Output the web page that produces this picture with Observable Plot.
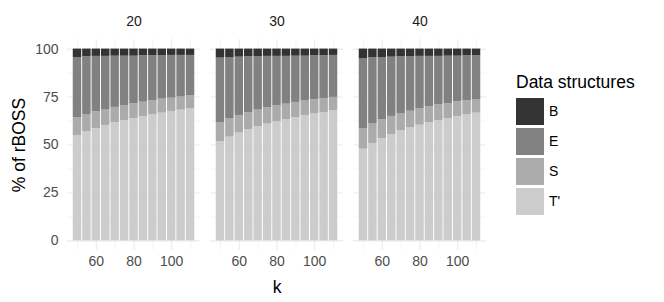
<!DOCTYPE html>
<html><head><meta charset="utf-8">
<script src="https://cdn.jsdelivr.net/npm/d3@7"></script>
<script src="https://cdn.jsdelivr.net/npm/@observablehq/plot@0.6"></script>
<style>
body{margin:0;background:#fff;font-family:"Liberation Sans",Arial,sans-serif;}
#wrap{position:relative;width:664px;height:302px;overflow:hidden;}
#wrap svg{position:absolute;left:0;top:0;}
#legend{position:absolute;left:516px;top:71px;color:#000;}
#legend .title{font-size:17.5px;line-height:22px;height:25px;white-space:nowrap;}
#legend .item{display:flex;align-items:center;height:30px;}
#legend .sw{width:28px;height:27px;margin-right:5px;}
#legend .lab{font-size:14px;color:#000;}
</style></head><body><div id="wrap"></div>
<script>
const nValues = [20, 30, 40];
const kValues = [50, 55, 60, 65, 70, 75, 80, 85, 90, 95, 100, 105, 110];
const structures = ["B", "E", "S", "T'"];
const greys = ["#333333", "#818181", "#ababab", "#cccccc"];

const tPrime20 = [54.8, 57.0, 58.6, 60.2, 61.6, 62.6, 63.8, 64.7, 65.7, 66.6, 67.5, 68.2, 68.9];
const s20      = [9.4, 8.9, 8.7, 8.3, 8.0, 8.0, 7.8, 7.6, 7.5, 7.3, 6.9, 6.8, 6.7];
const b20      = [4.4, 4.0, 3.8, 3.8, 3.7, 3.7, 3.7, 3.5, 3.5, 3.5, 3.3, 3.3, 3.3];

const tPrime30 = [51.8, 54.1, 56.2, 57.9, 59.5, 60.9, 62.1, 63.3, 64.3, 65.4, 66.2, 66.9, 67.8];
const s30      = [9.9, 9.7, 9.2, 8.9, 8.7, 8.5, 8.3, 8.0, 7.9, 7.5, 7.4, 7.2, 7.0];
const b30      = [4.7, 4.4, 4.2, 4.0, 4.0, 3.8, 3.8, 3.8, 3.7, 3.7, 3.5, 3.5, 3.3];

const tPrime40 = [47.8, 50.8, 53.4, 55.5, 57.4, 58.9, 60.3, 61.6, 62.8, 63.8, 64.9, 65.7, 66.6];
const s40      = [10.8, 10.4, 9.7, 9.4, 9.0, 8.7, 8.6, 8.3, 8.1, 7.8, 7.6, 7.5, 7.1];
const b40      = [5.1, 4.5, 4.4, 4.2, 4.0, 4.0, 3.8, 3.8, 3.8, 3.7, 3.7, 3.5, 3.5];

const yMajor = [0, 25, 50, 75, 100];
const yMinor = [12.5, 37.5, 62.5, 87.5];
const xMajor = [60, 80, 100];
const xMinor = [50, 70, 90, 110];

const series = {20: [tPrime20, s20, b20], 30: [tPrime30, s30, b30], 40: [tPrime40, s40, b40]};
const barWidth = 4.5;
const rows = [];
for (const n of nValues) {
  const [T, S, B] = series[n];
  kValues.forEach((k, i) => {
    const E = 100 - T[i] - S[i] - B[i];
    const stack = [["T'", T[i]], ["S", S[i]], ["E", E], ["B", B[i]]];
    let acc = 0;
    for (const [struct, v] of stack) {
      rows.push({n, k, struct, y1: acc, y2: acc + v});
      acc += v;
    }
  });
}

const gridStyle = {stroke: "#ebebeb", strokeOpacity: 1};
const chart = Plot.plot({
  width: 500, height: 302,
  marginLeft: 67, marginRight: 14, marginTop: 39, marginBottom: 52,
  style: {fontFamily: "'Liberation Sans', Arial, sans-serif", background: "transparent"},
  fx: {domain: nValues, paddingInner: 0.07, paddingOuter: 0, label: null},
  x: {domain: [44.7, 115.3]},
  y: {domain: [-5, 105]},
  color: {domain: structures, range: greys},
  marks: [
    Plot.gridY(yMinor, {...gridStyle, strokeWidth: 0.55}),
    Plot.gridY(yMajor, {...gridStyle, strokeWidth: 1.1}),
    Plot.gridX(xMinor, {...gridStyle, strokeWidth: 0.55}),
    Plot.gridX(xMajor, {...gridStyle, strokeWidth: 1.1}),
    Plot.rect(rows, {fx: "n", x1: d => d.k - barWidth / 2, x2: d => d.k + barWidth / 2, y1: "y1", y2: "y2", fill: "struct"}),
    Plot.axisY(yMajor, {tickSize: 0, tickPadding: 9, fontSize: 14, fill: "#4d4d4d", label: null}),
    Plot.axisY([], {label: "% of rBOSS", labelAnchor: "center", labelArrow: "none", labelOffset: 55, fontSize: 17.5, fill: "#000"}),
    Plot.axisX(xMajor, {tickSize: 0, tickPadding: 6, fontSize: 14, fill: "#4d4d4d", label: null}),
    Plot.axisX([], {label: "k", labelAnchor: "center", labelArrow: "none", labelOffset: 42, fontSize: 17.5, fill: "#000"}),
    Plot.axisFx({anchor: "top", tickSize: 0, tickPadding: 14, fontSize: 14, fill: "#1a1a1a", label: null})
  ]
});

const wrap = document.getElementById("wrap");
wrap.appendChild(chart);

const legend = document.createElement("div");
legend.id = "legend";
const title = document.createElement("div");
title.className = "title";
title.textContent = "Data structures";
legend.appendChild(title);
structures.forEach((s, i) => {
  const item = document.createElement("div");
  item.className = "item";
  const sw = document.createElement("div");
  sw.className = "sw";
  sw.style.background = greys[i];
  const lab = document.createElement("span");
  lab.className = "lab";
  lab.textContent = s;
  item.appendChild(sw);
  item.appendChild(lab);
  legend.appendChild(item);
});
wrap.appendChild(legend);
</script></body></html>
